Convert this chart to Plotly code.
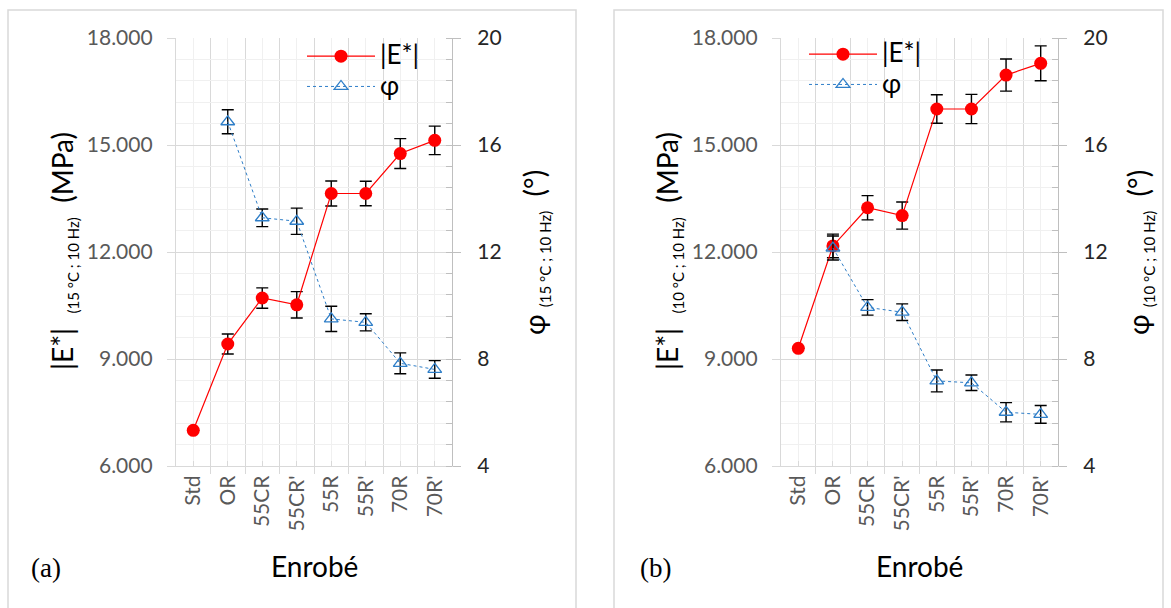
import plotly.graph_objects as go

# ---------------- data ----------------
categories = ["Std", "OR", "55CR", "55CR'", "55R", "55R'", "70R", "70R'"]
series_names = ["|E*|", "φ"]

# panel (a) 15 °C ; 10 Hz
E_a = [7000, 9420, 10710, 10520, 13640, 13640, 14760, 15130]
E_a_err = [None, 280, 285, 370, 350, 345, 420, 400]
phi_a = [None, 16.87, 13.28, 13.15, 9.50, 9.37, 7.84, 7.61]
phi_a_err = [None, 0.45, 0.33, 0.49, 0.47, 0.32, 0.39, 0.33]

# panel (b) 10 °C ; 10 Hz
E_b = [9300, 12170, 13240, 13020, 16010, 16010, 16960, 17290]
E_b_err = [None, 330, 340, 380, 400, 410, 450, 490]
phi_b = [None, 12.15, 9.93, 9.75, 7.18, 7.11, 6.01, 5.93]
phi_b_err = [None, 0.45, 0.29, 0.31, 0.41, 0.29, 0.36, 0.33]

E_ticks = [6000, 9000, 12000, 15000, 18000]
E_ticktext = ["6.000", "9.000", "12.000", "15.000", "18.000"]
phi_ticks = [4, 8, 12, 16, 20]

# ---------------- layout constants ----------------
W, H = 1171, 608
FONT = "Lato"
RED = "#FF0000"
BLUE = "#2E7EC8"
GRID = "#D9D9D9"
GRID_MINOR = "#F0F0F0"
AXIS = "#BFBFBF"
TICKFONT = dict(family=FONT, size=21, color="#595959")

xpos = list(range(len(categories)))

def px_x(a, b):
    return [a / W, b / W]

ydom = [1 - 466 / H, 1 - 38 / H]

def legname(s):
    return "<span style='font-size:26px'>%s</span>" % s

fig = go.Figure()

def add_panel(E, Eerr, phi, phierr, xa, ya, ya2, legend):
    fig.add_trace(go.Scatter(
        x=xpos, y=E, name=legname(series_names[0]), mode="lines+markers",
        xaxis=xa, yaxis=ya, legend=legend,
        line=dict(color=RED, width=1.2),
        marker=dict(symbol="circle", size=13, color=RED),
        error_y=dict(type="data", array=Eerr, visible=True,
                     color="black", thickness=1.4, width=6),
        hoverinfo="skip"))
    fig.add_trace(go.Scatter(
        x=xpos, y=phi, name=legname(series_names[1]), mode="lines+markers",
        xaxis=xa, yaxis=ya2, legend=legend,
        line=dict(color=BLUE, width=1, dash="dot"),
        marker=dict(symbol="triangle-up-open", size=12,
                    color=BLUE, line=dict(color=BLUE, width=1.3)),
        error_y=dict(type="data", array=phierr, visible=True,
                     color="black", thickness=1.4, width=6),
        hoverinfo="skip"))

add_panel(E_a, E_a_err, phi_a, phi_a_err, "x", "y", "y2", "legend")
add_panel(E_b, E_b_err, phi_b, phi_b_err, "x2", "y3", "y4", "legend2")

def xaxis_cfg(dom, anchor):
    return dict(
        domain=dom, anchor=anchor, range=[-0.5, len(categories) - 0.5],
        tickmode="array", tickvals=xpos, ticktext=categories,
        tickangle=-90, tickfont=TICKFONT, automargin=False,
        showgrid=True, gridcolor=GRID_MINOR, gridwidth=1,
        ticks="inside", ticklen=5, tickcolor=GRID,
        showline=True, linecolor=GRID, linewidth=1.3,
        zeroline=False, fixedrange=True,
        minor=dict(tickmode="linear", tick0=-0.5, dtick=1,
                   showgrid=True, gridcolor=GRID, gridwidth=1.3,
                   ticks="outside", ticklen=7, tickcolor=GRID))

def yleft_cfg(anchor):
    return dict(
        domain=ydom, anchor=anchor, range=[6000, 18000],
        tickmode="array", tickvals=E_ticks, ticktext=E_ticktext,
        tickfont=TICKFONT, ticklabelstandoff=10, automargin=False,
        showgrid=True, gridcolor=GRID, gridwidth=1.3,
        ticks="outside", ticklen=8, tickcolor=GRID,
        showline=True, linecolor=GRID, linewidth=1.3,
        zeroline=False, fixedrange=True,
        minor=dict(tickmode="linear", tick0=6000, dtick=600,
                   showgrid=True, gridcolor=GRID_MINOR, gridwidth=1,
                   ticks=""))

def yright_cfg(anchor, overlay):
    return dict(
        domain=ydom, anchor=anchor, overlaying=overlay, side="right",
        range=[4, 20], tickmode="array", tickvals=phi_ticks,
        tickfont=dict(family=FONT, size=21, color="#262626"),
        ticklabelstandoff=12, automargin=False,
        showgrid=False, ticks="outside", ticklen=8, tickcolor=AXIS,
        showline=True, linecolor=AXIS, linewidth=1.3,
        zeroline=False, fixedrange=True,
        minor=dict(tickmode="linear", tick0=4, dtick=0.8,
                   ticks="inside", ticklen=6, tickcolor=AXIS,
                   showgrid=False))

LEGFONT = dict(family=FONT, size=21)
fig.update_layout(
    width=W, height=H, margin=dict(l=0, r=0, t=0, b=0, autoexpand=False),
    paper_bgcolor="white", plot_bgcolor="white",
    font=dict(family=FONT, color="black"),
    xaxis=xaxis_cfg(px_x(176, 452), "y"),
    yaxis=yleft_cfg("x"),
    yaxis2=yright_cfg("x", "y"),
    xaxis2=xaxis_cfg(px_x(781, 1058), "y3"),
    yaxis3=yleft_cfg("x2"),
    yaxis4=yright_cfg("x2", "y3"),
    legend=dict(x=302 / W, y=1 - 36 / H, xanchor="left", yanchor="top",
                bgcolor="rgba(0,0,0,0)", font=LEGFONT,
                itemwidth=68, tracegroupgap=0),
    legend2=dict(x=804 / W, y=1 - 34 / H, xanchor="left", yanchor="top",
                 bgcolor="rgba(0,0,0,0)", font=LEGFONT,
                 itemwidth=68, tracegroupgap=0),
    showlegend=True,
)

# panel frames
for x0, x1 in [(8, 576), (614, 1163)]:
    fig.add_shape(type="rect", xref="paper", yref="paper",
                  x0=x0 / W, x1=x1 / W, y0=-0.05, y1=1 - 10 / H,
                  line=dict(color="#D9D9D9", width=1.5), layer="below")

SUB = "<sub><span style='font-size:15px'>(%s)</span></sub>"
annots = [
    # left panel
    dict(x=64 / W, y=1 - 251 / H, textangle=-90,
         text="|E*|  " + SUB % "15 °C ; 10 Hz" + "  (MPa)"),
    dict(x=535 / W, y=1 - 253 / H, textangle=-90,
         text="φ " + SUB % "15 °C ; 10 Hz" + "  (°)"),
    dict(x=314 / W, y=1 - 566 / H, text="Enrobé"),
    # right panel
    dict(x=669 / W, y=1 - 251 / H, textangle=-90,
         text="|E*|  " + SUB % "10 °C ; 10 Hz" + "  (MPa)"),
    dict(x=1139 / W, y=1 - 253 / H, textangle=-90,
         text="φ " + SUB % "10 °C ; 10 Hz" + "  (°)"),
    dict(x=919 / W, y=1 - 566 / H, text="Enrobé"),
]
for a in annots:
    fig.add_annotation(xref="paper", yref="paper", showarrow=False,
                       xanchor="center", yanchor="middle",
                       font=dict(family=FONT, size=28, color="black"), **a)

for txt, xc in [("(a)", 46), ("(b)", 655)]:
    fig.add_annotation(xref="paper", yref="paper", showarrow=False,
                       x=xc / W, y=1 - 568 / H, xanchor="center", yanchor="middle",
                       text=txt,
                       font=dict(family="Liberation Serif", size=27, color="black"))

fig.write_html(
    "out.html",
    config={"displayModeBar": False},
    post_script="document.body.style.margin='0px';"
                "document.body.style.overflow='hidden';",
)
